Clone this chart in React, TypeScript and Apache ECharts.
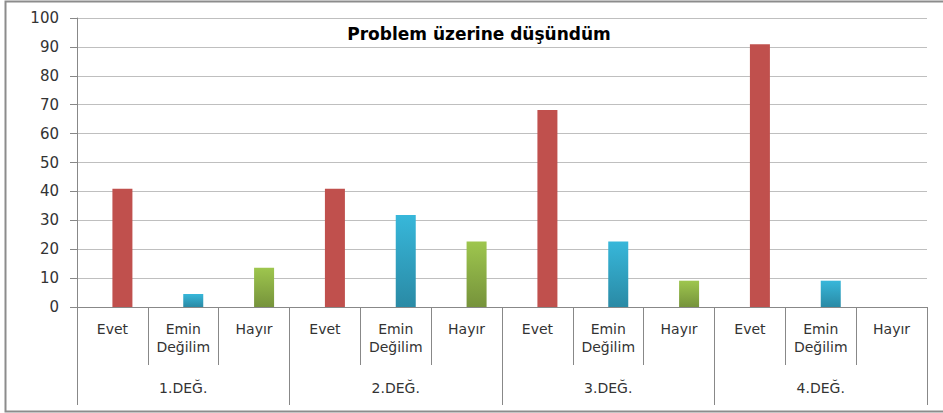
import React, { useEffect, useRef } from "react";
import * as echarts from "echarts";

const categories = ["Evet", "Emin\nDeğilim", "Hayır", "Evet", "Emin\nDeğilim", "Hayır", "Evet", "Emin\nDeğilim", "Hayır", "Evet", "Emin\nDeğilim", "Hayır"];
const groups = ["1.DEĞ.", "2.DEĞ.", "3.DEĞ.", "4.DEĞ."];
const values = [40.9, 4.5, 13.6, 40.9, 31.8, 22.7, 68.2, 22.7, 9.1, 90.9, 9.1, 0];
const kinds = ["evet", "emin", "hayir", "evet", "emin", "hayir", "evet", "emin", "hayir", "evet", "emin", "hayir"];
const yTicks = [0, 10, 20, 30, 40, 50, 60, 70, 80, 90, 100];
const title = "Problem üzerine düşündüm";

const colorFor = (k: string) => {
  if (k === "evet") return "#C0504D";
  if (k === "emin")
    return new echarts.graphic.LinearGradient(0, 0, 0, 1, [
      { offset: 0, color: "#37B7DA" },
      { offset: 1, color: "#2A8AA5" },
    ]);
  return new echarts.graphic.LinearGradient(0, 0, 0, 1, [
    { offset: 0, color: "#9EC64E" },
    { offset: 1, color: "#76933B" },
  ]);
};

export default function App() {
  const ref = useRef<HTMLDivElement>(null);
  useEffect(() => {
    const chart = echarts.init(ref.current!, null, { renderer: "svg" });
    const font = "DejaVu Sans";
    chart.setOption({
      animation: false,
      backgroundColor: "#ffffff",
      grid: { left: 77, right: 16, top: 18, bottom: 106, containLabel: false },
      graphic: [
        {
          type: "rect",
          shape: { x: 5.5, y: 1.5, width: 960, height: 410 },
          style: { fill: "none", stroke: "#8c8c8c", lineWidth: 2 },
          z: 100,
        },
        {
          type: "text",
          x: 479,
          y: 34,
          style: {
            text: title,
            fontFamily: "DejaVu Sans",
            fontWeight: "bold",
            fontSize: 17,
            fill: "#000",
            textAlign: "center",
            textVerticalAlign: "middle",
          },
          z: 50,
        },
      ],
      xAxis: [
        {
          type: "category",
          data: categories,
          position: "bottom",
          axisLine: { show: true, lineStyle: { color: "#888", width: 1 } },
          axisTick: { show: true, interval: 0, length: 58, lineStyle: { color: "#888" } },
          axisLabel: {
            interval: 0,
            fontFamily: font,
            fontSize: 14,
            lineHeight: 18,
            color: "#333",
            margin: 13,
          },
          splitLine: { show: false },
        },
        {
          type: "category",
          data: groups,
          position: "bottom",
          axisLine: { show: false },
          axisTick: { show: true, interval: 0, length: 98, lineStyle: { color: "#888" } },
          axisLabel: {
            interval: 0,
            fontFamily: font,
            fontSize: 14,
            color: "#333",
            margin: 74,
          },
        },
      ],
      yAxis: {
        type: "value",
        min: 0,
        max: 100,
        interval: 10,
        axisLine: { show: true, lineStyle: { color: "#888" } },
        axisTick: { show: true, length: 7, lineStyle: { color: "#888" } },
        axisLabel: {
          fontFamily: font,
          fontSize: 15,
          color: "#333",
          margin: 18,
          formatter: (v: number) => (yTicks.includes(v) ? String(v) : ""),
        },
        splitLine: { show: true, lineStyle: { color: "#BFBFBF", width: 1 } },
      },
      series: [
        {
          type: "bar",
          xAxisIndex: 0,
          data: values.map(() => "-"),
          barWidth: 20,
          barGap: "0%",
        },
        {
          type: "bar",
          xAxisIndex: 0,
          barWidth: 20,
          barGap: "0%",
          data: values.map((v, i) => ({ value: v, itemStyle: { color: colorFor(kinds[i]) } })),
        },
      ],
    });
    return () => chart.dispose();
  }, []);
  return (
    <div
      ref={ref}
      style={{ position: "fixed", left: 0, top: 0, width: 943, height: 413 }}
    />
  );
}
